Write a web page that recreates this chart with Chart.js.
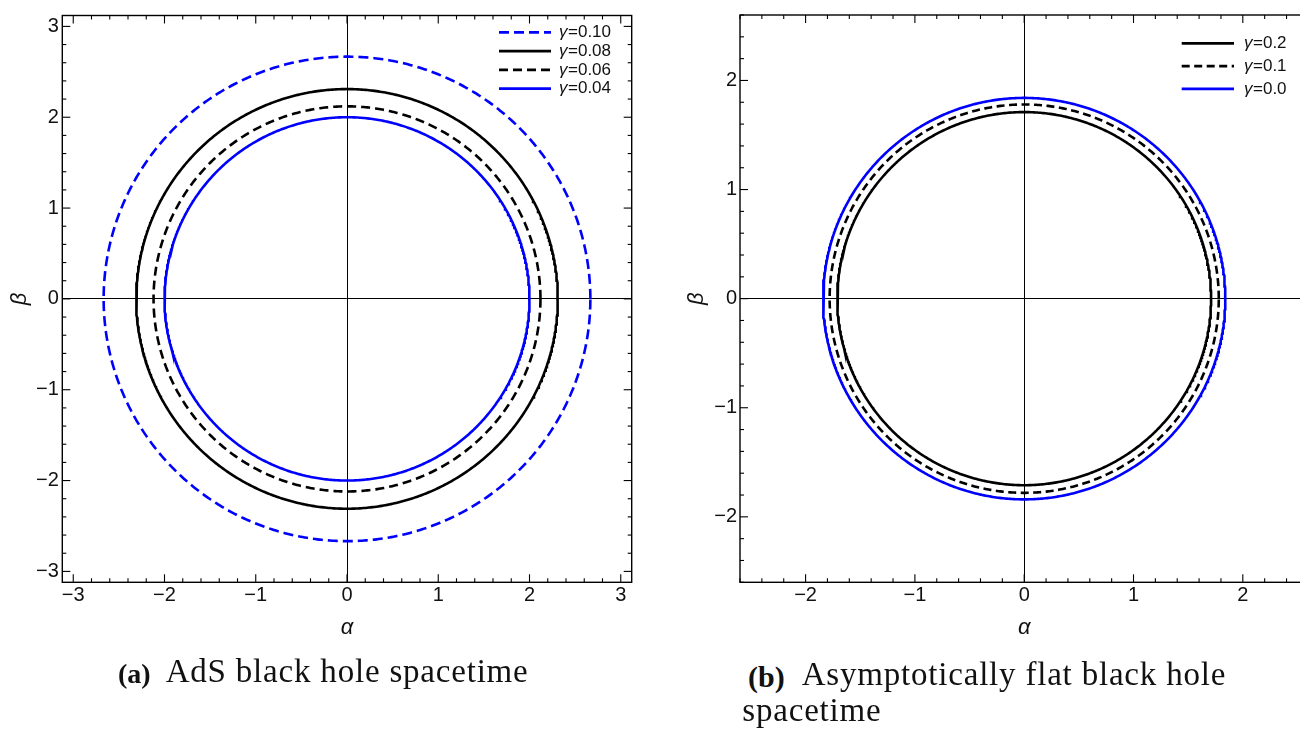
<!DOCTYPE html>
<html><head><meta charset="utf-8">
<script src="https://cdn.jsdelivr.net/npm/chart.js@4.4.1/dist/chart.umd.min.js"></script>
<style>
html,body{margin:0;padding:0;background:#fff;}
#wrap{position:relative;width:1300px;height:729px;overflow:hidden;background:#fff;}
canvas{position:absolute;top:0;}
.cap{position:absolute;font-family:"Liberation Serif",serif;color:#111;white-space:nowrap;line-height:1.107;}
.main{font-size:33px;letter-spacing:0.8px;}
.lab{font-size:28px;font-weight:bold;}
</style></head><body>
<div id="wrap">
  <canvas id="ca" width="660" height="660" style="left:0px;width:660px;height:660px"></canvas>
  <canvas id="cb" width="680" height="660" style="left:660px;width:680px;height:660px"></canvas>
  <div class="cap lab" style="left:118px;top:657.7px">(a)</div>
  <div class="cap main" style="left:165.7px;top:653.3px">AdS black hole spacetime</div>
  <div class="cap lab" style="left:748px;top:660px;font-size:30px">(b)</div>
  <div class="cap main" style="left:801.7px;top:656px">Asymptotically flat black hole</div>
  <div class="cap main" style="left:742.3px;top:692px">spacetime</div>
</div>
<script>
// ---- data ----
const labelsA = ['γ=0.10', 'γ=0.08', 'γ=0.06', 'γ=0.04'];
const radiusA = [2.667, 2.31, 2.12, 2.00];
const labelsB = ['γ=0.2', 'γ=0.1', 'γ=0.0'];
const radiusB = [1.71, 1.78, 1.84];
const ticksA = [-3, -2, -1, 0, 1, 2, 3];
const ticksB = [-2, -1, 0, 1, 2];

// ---- styles ----
const BLUE = 'rgb(0,0,255)', BLACK = '#000';
const styleA = [
  {c: BLUE, d: [10, 5]}, {c: BLACK, d: []}, {c: BLACK, d: [9, 5]}, {c: BLUE, d: []}
];
const styleB = [
  {c: BLACK, d: []}, {c: BLACK, d: [8, 4.5]}, {c: BLUE, d: []}
];

function circlePoints(r) {
  const pts = [];
  const N = 720;
  for (let i = 0; i <= N; i++) {
    const t = 2 * Math.PI * i / N;
    pts.push({x: r * Math.cos(t), y: r * Math.sin(t)});
  }
  return pts;
}

const fmt = v => (v < 0 ? '\u2212' + Math.abs(v) : String(v));

const frameTicks = {
  id: 'frameTicks',
  afterDraw(chart, args, opts) {
    const {ctx, chartArea: a, scales: {x, y}} = chart;
    ctx.save();
    ctx.strokeStyle = '#000';
    ctx.lineWidth = 1.1;
    const step = opts.minorStep;
    const seg = (x1, y1, x2, y2) => { ctx.beginPath(); ctx.moveTo(x1, y1); ctx.lineTo(x2, y2); ctx.stroke(); };
    for (let k = Math.ceil(x.min / step - 1e-9); k * step <= x.max + 1e-9; k++) {
      const v = k * step;
      const len = Math.abs(v - Math.round(v)) < 1e-6 ? 8 : 4;
      const px = x.getPixelForValue(v);
      seg(px, a.bottom, px, a.bottom - len);
      seg(px, a.top, px, a.top + len);
    }
    for (let k = Math.ceil(y.min / step - 1e-9); k * step <= y.max + 1e-9; k++) {
      const v = k * step;
      const len = Math.abs(v - Math.round(v)) < 1e-6 ? 8 : 4;
      const py = y.getPixelForValue(v);
      seg(a.left, py, a.left + len, py);
      seg(a.right, py, a.right - len, py);
    }
    ctx.lineWidth = 1.4;
    ctx.strokeRect(a.left, a.top, a.right - a.left, a.bottom - a.top);
    // legend
    const L = opts.legend;
    chart.data.datasets.forEach((ds, i) => {
      const yy = L.y0 + i * L.dy;
      ctx.save();
      ctx.strokeStyle = ds.borderColor;
      ctx.lineWidth = 2.8;
      ctx.setLineDash(ds.borderDash || []);
      seg(L.x1, yy, L.x2, yy);
      ctx.restore();
      ctx.fillStyle = '#111';
      ctx.textBaseline = 'middle';
      ctx.textAlign = 'left';
      const g = ds.label.charAt(0), rest = ds.label.slice(1);
      ctx.font = 'italic 17px "Liberation Sans", Arial, sans-serif';
      ctx.fillText(g, L.tx, yy);
      const w = ctx.measureText(g).width;
      ctx.font = '17px "Liberation Sans", Arial, sans-serif';
      ctx.fillText(rest, L.tx + w + 0.5, yy);
    });
    ctx.restore();
  }
};

function makeChart(id, labels, radii, styles, majorTicks, lim, lay) {
  const datasets = labels.map((lab, i) => ({
    label: lab,
    data: circlePoints(radii[i]),
    showLine: true,
    pointRadius: 0,
    borderColor: styles[i].c,
    borderDash: styles[i].d,
    borderWidth: 2.6,
    fill: false,
    tension: 0
  }));
  const zeroGrid = {
    drawOnChartArea: true,
    drawTicks: false,
    lineWidth: 1,
    color: c => (c.tick && c.tick.value === 0 ? '#000' : 'rgba(0,0,0,0)')
  };
  const tickFont = {family: '"Liberation Sans", Arial, sans-serif', size: 20};
  const titleFont = {family: '"Liberation Sans", Arial, sans-serif', size: 22, style: 'italic'};
  return new Chart(document.getElementById(id), {
    type: 'scatter',
    data: {datasets},
    plugins: [frameTicks],
    options: {
      responsive: false,
      animation: false,
      layout: {padding: lay.padding},
      plugins: {
        legend: {display: false},
        tooltip: {enabled: false},
        frameTicks: {minorStep: 0.2, legend: lay.legend}
      },
      scales: {
        x: {
          type: 'linear', min: -lim, max: lim,
          afterBuildTicks: s => { s.ticks = majorTicks.map(v => ({value: v})); },
          afterFit: s => { s.height = 60; },
          grid: zeroGrid,
          border: {display: false},
          ticks: {autoSkip: false, maxRotation: 0, padding: 1, color: '#111', font: tickFont, callback: fmt},
          title: {display: true, text: 'α', color: '#111', font: titleFont, padding: {top: 0, bottom: 1}}
        },
        y: {
          type: 'linear', min: -lim, max: lim,
          afterBuildTicks: s => { s.ticks = majorTicks.map(v => ({value: v})); },
          afterFit: s => { s.width = lay.yWidth; },
          grid: zeroGrid,
          border: {display: false},
          ticks: {autoSkip: false, padding: lay.tickPad, color: '#111', font: tickFont, callback: fmt},
          title: {display: true, text: 'β', color: '#111', font: titleFont, padding: {top: lay.betaPad, bottom: 0}}
        }
      }
    }
  });
}

makeChart('ca', labelsA, radiusA, styleA, ticksA, 3.12, {
  padding: {left: 0, top: 13.3, right: 28.3, bottom: 17.7},
  yWidth: 62.3, tickPad: 3.5, betaPad: 7,
  legend: {x1: 499, x2: 551, tx: 559, y0: 32.3, dy: 18.8}
});
makeChart('cb', labelsB, radiusB, styleB, ticksB, 2.6, {
  padding: {left: 0, top: 13.3, right: 31.6, bottom: 17.7},
  yWidth: 80, tickPad: 3, betaPad: 24,
  legend: {x1: 521.7, x2: 574, tx: 584, y0: 43.3, dy: 22.8}
});
</script>
</body></html>
